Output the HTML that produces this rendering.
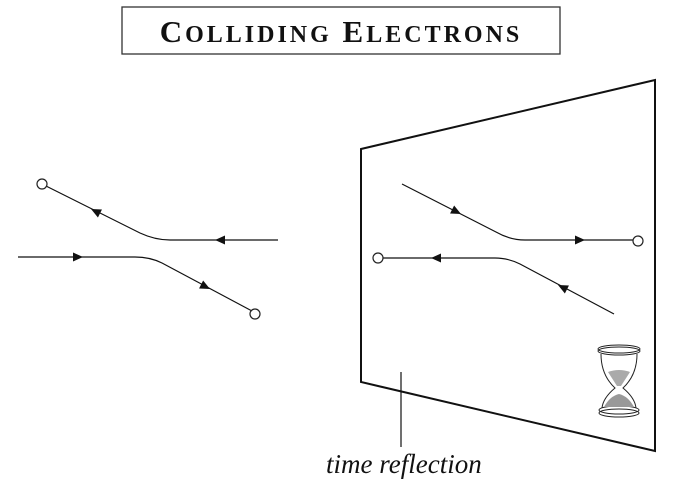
<!DOCTYPE html>
<html><head><meta charset="utf-8"><style>
html,body{margin:0;padding:0;background:#fff;}
svg{display:block;}
</style></head><body>
<svg width="682" height="497" viewBox="0 0 682 497" xmlns="http://www.w3.org/2000/svg">
<rect x="122" y="7" width="438" height="47" fill="none" stroke="#333" stroke-width="1.3"/>
<text x="341" y="42" text-anchor="middle" font-family="Liberation Serif, serif" font-weight="bold" font-size="31" letter-spacing="3" fill="#111">C<tspan font-size="24">OLLIDING</tspan> E<tspan font-size="24">LECTRONS</tspan></text>

<g fill="none" stroke="#111" stroke-width="1.2">
<path d="M46,186 L140,233 Q155,240 170,240 L278,240"/>
<path d="M18,257 L135,257 Q150,257 162,263 L252,311"/>
<path d="M361,149 L655,80 L655,451 L361,382 Z" stroke-width="2"/>
<path d="M402,184 L496,232 Q510,240 525,240 L634,240"/>
<path d="M383,258 L495,258 Q508,258 520,264 L614,314"/>
<line x1="401" y1="372" x2="401" y2="447"/>
</g>
<g fill="#fff" stroke="#222" stroke-width="1.2">
<circle cx="42" cy="184" r="5"/>
<circle cx="255" cy="314" r="5"/>
<circle cx="638" cy="241" r="5"/>
<circle cx="378" cy="258" r="5"/>
</g>
<g fill="#111">
<polygon points="0,0 10,-4.5 10,4.5" transform="translate(91,209) rotate(26.6)"/>
<polygon points="0,0 10,-4.5 10,4.5" transform="translate(215,240)"/>
<polygon points="0,0 -10,-4.5 -10,4.5" transform="translate(83,257)"/>
<polygon points="0,0 -10,-4.5 -10,4.5" transform="translate(210,289) rotate(27)"/>
<polygon points="0,0 -10,-4.5 -10,4.5" transform="translate(461,214) rotate(27)"/>
<polygon points="0,0 -10,-4.5 -10,4.5" transform="translate(585,240)"/>
<polygon points="0,0 10,-4.5 10,4.5" transform="translate(431,258)"/>
<polygon points="0,0 10,-4.5 10,4.5" transform="translate(558,285) rotate(27)"/>
</g>
<g fill="none" stroke="#222" stroke-width="1">
<ellipse cx="619" cy="349" rx="21" ry="4"/>
<ellipse cx="619" cy="351" rx="21" ry="4"/>
<path d="M601,354 Q601,375 615,388 Q603,398 602,408 M637,354 Q637,375 623,388 Q635,398 636,408"/>
<ellipse cx="619" cy="410" rx="20" ry="4"/>
<ellipse cx="619" cy="413" rx="20" ry="4"/>
</g>
<path d="M608,372 Q619,368 630,372 L621,386 L617,386 Z" fill="#aaa"/>
<path d="M604,407 Q610,396 619,394 Q628,396 634,407 Z" fill="#999"/>
<text x="326" y="473" font-family="Liberation Serif, serif" font-style="italic" font-size="27" fill="#111">time reflection</text>
</svg>
</body></html>
